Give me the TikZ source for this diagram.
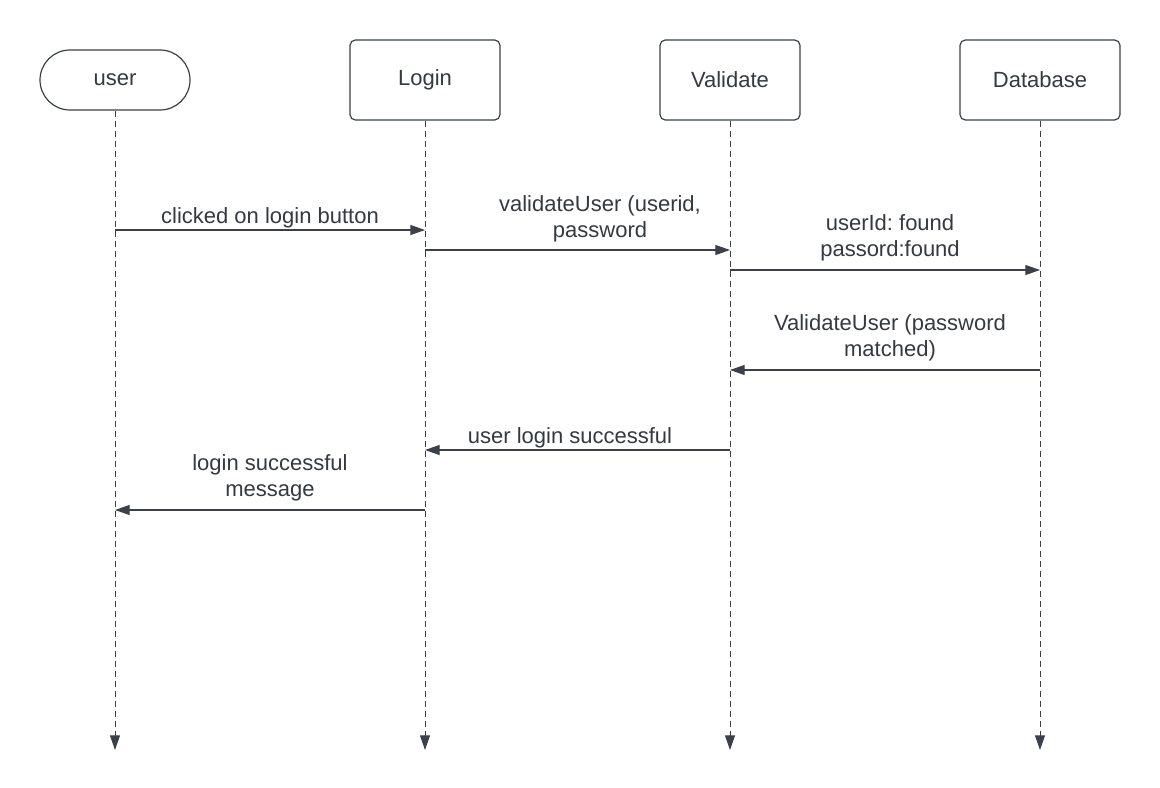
\documentclass[tikz,border=0pt]{standalone}
\usepackage{fontspec}
\setmainfont{Liberation Sans}
\usetikzlibrary{arrows.meta}
\definecolor{ink}{HTML}{3A414A}
\definecolor{txt}{HTML}{333A42}
\frenchspacing
\begin{document}
\begin{tikzpicture}[x=0.75pt,y=-0.75pt,
  actor/.style={draw=ink, line width=0.9pt, fill=white, text=txt, font=\fontsize{16.5}{19}\selectfont, inner sep=0pt},
  lifeline/.style={draw=ink, line width=0.75pt, dash pattern=on 4.5pt off 3pt, -{Triangle[length=11pt,width=7.5pt]}},
  msg/.style={draw=ink, line width=0.85pt, -{Triangle[length=11pt,width=7.5pt]}},
  lbl/.style={text=txt, font=\fontsize{16.5}{19.5}\selectfont, align=center, inner sep=0pt}]
\useasboundingbox[fill=white] (0,0) rectangle (1160,788);
% actors
\node[actor, minimum width=112.5pt, minimum height=45pt, rounded corners=22.5pt] (user) at (115,80) {user};
\node[actor, minimum width=112.5pt, minimum height=60pt, rounded corners=4pt] (login) at (425,80) {Login};
\node[actor, minimum width=105pt, minimum height=60pt, rounded corners=4pt] (val) at (730,80) {Validate};
\node[actor, minimum width=120pt, minimum height=60pt, rounded corners=4pt] (db) at (1040,80) {Database};
% lifeline ends
\coordinate (ue) at (115,750);
\coordinate (le) at (425,750);
\coordinate (ve) at (730,750);
\coordinate (de) at (1040,750);
\draw[lifeline] (user.south) -- (ue);
\draw[lifeline] (login.south) -- (le);
\draw[lifeline] (val.south) -- (ve);
\draw[lifeline] (db.south) -- (de);
% message anchor points
\coordinate (u1) at (115,230); \coordinate (l1) at (425,230);
\coordinate (l2) at (425,250); \coordinate (v2) at (730,250);
\coordinate (v3) at (730,270); \coordinate (d3) at (1040,270);
\coordinate (d4) at (1040,370); \coordinate (v4) at (730,370);
\coordinate (v5) at (730,450); \coordinate (l5) at (425,450);
\coordinate (l6) at (425,510); \coordinate (u6) at (115,510);
\draw[msg] (u1) -- (l1);
\draw[msg] (l2) -- (v2);
\draw[msg] (v3) -- (d3);
\draw[msg] (d4) -- (v4);
\draw[msg] (v5) -- (l5);
\draw[msg] (l6) -- (u6);
% labels
\node[lbl] (t1) at (270,218) {clicked on login button};
\node[lbl] (t2) at (600,219) {validateUser (userid,\\password};
\node[lbl] (t3) at (890,238) {userId: found\\passord:found};
\node[lbl] (t4) at (890,338) {ValidateUser (password\\matched)};
\node[lbl] (t5) at (570,438) {user login successful};
\node[lbl] (t6) at (270,478) {login successful\\message};
\end{tikzpicture}
\end{document}
